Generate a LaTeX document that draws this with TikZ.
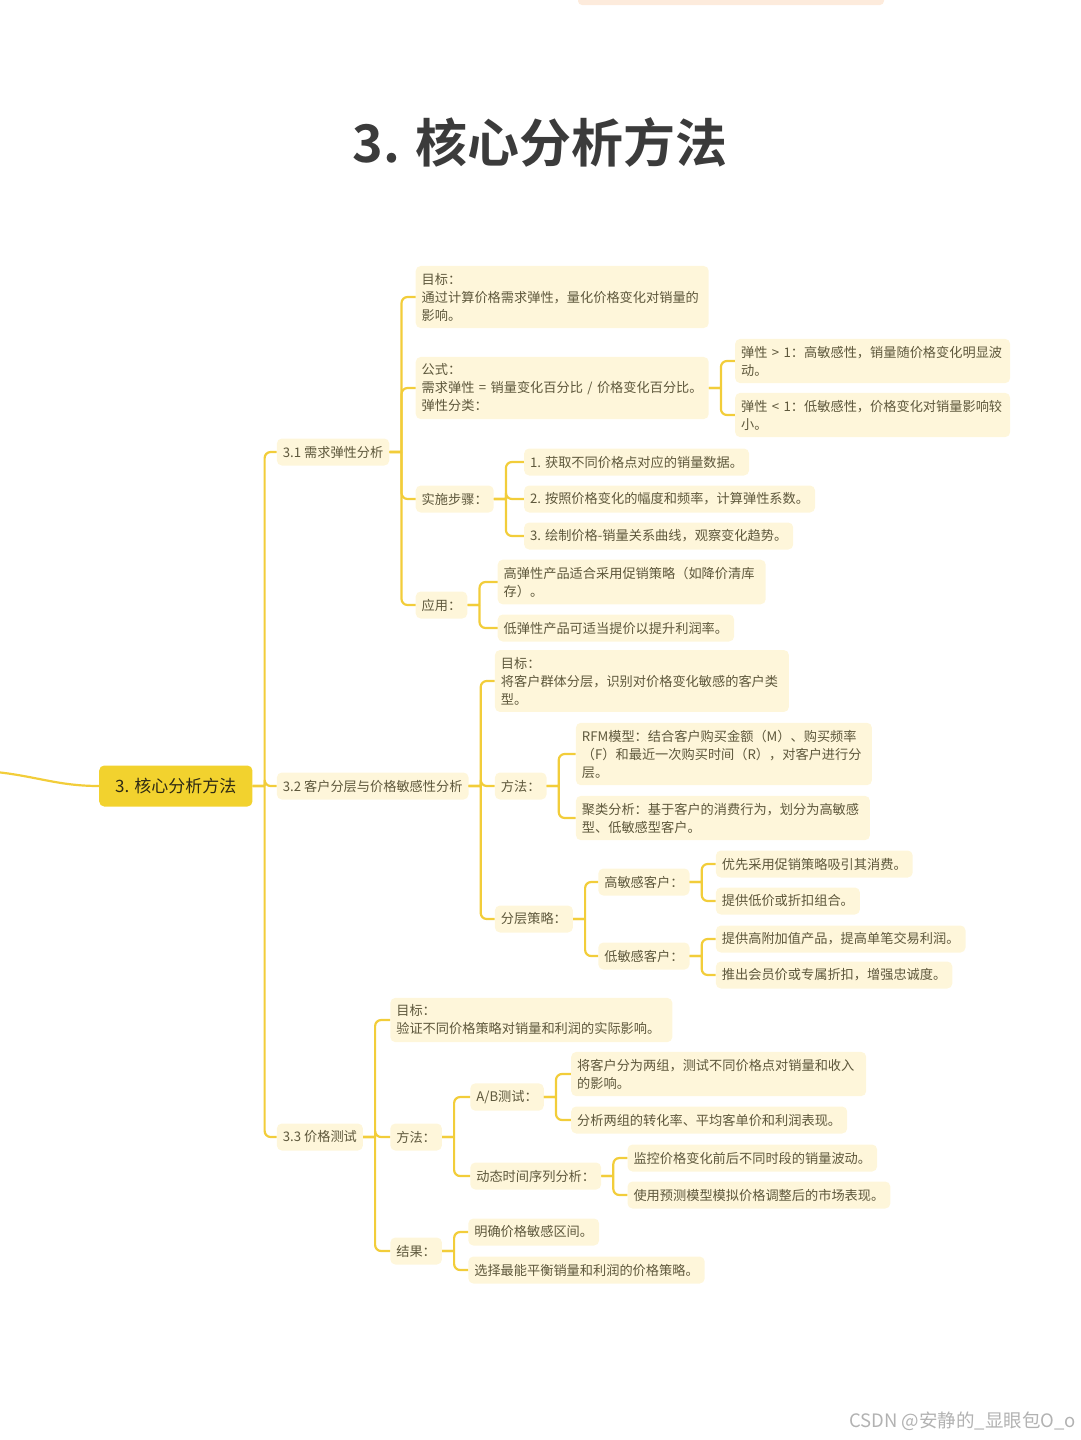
\documentclass[tikz,border=0pt]{standalone}
\usepackage{fontspec}
\setmainfont{Noto Sans CJK SC}[BoldFont={Noto Sans CJK SC Bold}]
\usepackage{xcolor}
\usetikzlibrary{positioning}

\definecolor{linkyellow}{HTML}{F2CD3A}
\definecolor{rootyellow}{HTML}{F2D22E}
\definecolor{rootink}{HTML}{2E2A14}
\definecolor{cream}{HTML}{FEF6DA}
\definecolor{ink}{HTML}{5E583C}
\definecolor{titleink}{HTML}{3B3B3B}
\definecolor{peach}{HTML}{FDEBDC}

\begin{document}
\begin{tikzpicture}[
    x=1pt, y=-1pt,
    heading/.style={font=\fontsize{52}{62}\selectfont\bfseries, text=titleink, inner sep=0pt},
    hub/.style={fill=rootyellow, rounded corners=5pt, text=rootink, font=\fontsize{17}{20}\selectfont, minimum height=41pt, inner xsep=16pt},
    leaf/.style={fill=cream, rounded corners=5pt, text=ink, font=\fontsize{13.2}{18}\selectfont, align=left, inner xsep=6pt, inner ysep=7pt, minimum height=27pt},
    link/.style={draw=linkyellow, line width=2.2pt, rounded corners=6pt},
    mark_lbl/.style={font=\fontsize{18.5}{20}\selectfont, text=black!30, inner sep=0pt}
]
    \useasboundingbox (0,0) rectangle (1080,1440);
    \fill[peach, rounded corners=4pt] (578,-6) rectangle (884,5);

    % Title
    \node[heading] (title) at (540,143) {3. 核心分析方法};

    % Root and main topics
    \node[hub, anchor=west] (core) at (99,786) {3. 核心分析方法};
    \coordinate (upstream) at (-4,772);
    \node[leaf, right=24pt of core, yshift=334pt] (elastic) {3.1 需求弹性分析};
    \node[leaf, right=24pt of core] (segment) {3.2 客户分层与价格敏感性分析};
    \node[leaf, right=24pt of core, yshift=-351pt] (pricetest) {3.3 价格测试};

    % 3.1
    \node[leaf, text width=281pt, right=26pt of elastic, yshift=155pt] (elGoal) {目标：\\通过计算价格需求弹性，量化价格变化对销量的\\影响。};
    \node[leaf, text width=281pt, right=26pt of elastic, yshift=64pt] (elFormula) {公式：\\需求弹性~=~销量变化百分比~/~价格变化百分比。\\弹性分类：};
    \node[leaf, right=26pt of elastic, yshift=-47pt] (elSteps) {实施步骤：};
    \node[leaf, right=26pt of elastic, yshift=-153pt] (elUse) {应用：};
    \node[leaf, text width=263pt, right=26pt of elFormula, yshift=27pt] (elHigh) {弹性~>~1：高敏感性，销量随价格变化明显波\\动。};
    \node[leaf, text width=263pt, right=26pt of elFormula, yshift=-27pt] (elLow) {弹性~<~1：低敏感性，价格变化对销量影响较\\小。};
    \node[leaf, right=30pt of elSteps, yshift=37pt] (stepA) {1. 获取不同价格点对应的销量数据。};
    \node[leaf, right=30pt of elSteps] (stepB) {2. 按照价格变化的幅度和频率，计算弹性系数。};
    \node[leaf, right=30pt of elSteps, yshift=-37pt] (stepC) {3. 绘制价格-销量关系曲线，观察变化趋势。};
    \node[leaf, text width=256pt, right=30pt of elUse, yshift=23pt] (useHigh) {高弹性产品适合采用促销策略（如降价清库\\存）。};
    \node[leaf, right=30pt of elUse, yshift=-23pt] (useLow) {低弹性产品可适当提价以提升利润率。};

    % 3.2
    \node[leaf, text width=282pt, right=26pt of segment, yshift=105pt] (segGoal) {目标：\\将客户群体分层，识别对价格变化敏感的客户类\\型。};
    \node[leaf, right=26pt of segment] (segMethod) {方法：};
    \node[leaf, right=26pt of segment, yshift=-133pt] (segPlan) {分层策略：};
    \node[leaf, text width=284pt, right=29pt of segMethod, yshift=32pt] (rfm) {RFM模型：结合客户购买金额（M）、购买频率\\（F）和最近一次购买时间（R），对客户进行分\\层。};
    \node[leaf, text width=282pt, right=29pt of segMethod, yshift=-32pt] (cluster) {聚类分析：基于客户的消费行为，划分为高敏感\\型、低敏感型客户。};
    \node[leaf, right=25pt of segPlan, yshift=37pt] (hiCust) {高敏感客户：};
    \node[leaf, right=25pt of segPlan, yshift=-37pt] (loCust) {低敏感客户：};
    \node[leaf, right=26pt of hiCust, yshift=18pt] (hiA) {优先采用促销策略吸引其消费。};
    \node[leaf, right=26pt of hiCust, yshift=-19pt] (hiB) {提供低价或折扣组合。};
    \node[leaf, right=26pt of loCust, yshift=17pt] (loA) {提供高附加值产品，提高单笔交易利润。};
    \node[leaf, right=26pt of loCust, yshift=-19pt] (loB) {推出会员价或专属折扣，增强忠诚度。};

    % 3.3
    \node[leaf, text width=270pt, right=27pt of pricetest, yshift=117pt] (ptGoal) {目标：\\验证不同价格策略对销量和利润的实际影响。};
    \node[leaf, right=27pt of pricetest] (ptMethod) {方法：};
    \node[leaf, right=27pt of pricetest, yshift=-114pt] (ptResult) {结果：};
    \node[leaf, right=28pt of ptMethod, yshift=40pt] (abTest) {A/B测试：};
    \node[leaf, right=28pt of ptMethod, yshift=-39pt] (series) {动态时间序列分析：};
    \node[leaf, text width=283pt, right=27pt of abTest, yshift=23pt] (abA) {将客户分为两组，测试不同价格点对销量和收入\\的影响。};
    \node[leaf, right=27pt of abTest, yshift=-23pt] (abB) {分析两组的转化率、平均客单价和利润表现。};
    \node[leaf, right=26pt of series, yshift=18pt] (seA) {监控价格变化前后不同时段的销量波动。};
    \node[leaf, right=26pt of series, yshift=-19pt] (seB) {使用预测模型模拟价格调整后的市场表现。};
    \node[leaf, right=26pt of ptResult, yshift=19pt] (resA) {明确价格敏感区间。};
    \node[leaf, right=26pt of ptResult, yshift=-19pt] (resB) {选择最能平衡销量和利润的价格策略。};

    % Connectors
    \draw[link] (upstream) to[out=-6, in=180] (core.west);
    \foreach \p/\c in {core/elastic, core/segment, core/pricetest,
        elastic/elGoal, elastic/elFormula, elastic/elSteps, elastic/elUse,
        elFormula/elHigh, elFormula/elLow,
        elSteps/stepA, elSteps/stepB, elSteps/stepC,
        elUse/useHigh, elUse/useLow,
        segment/segGoal, segment/segMethod, segment/segPlan,
        segMethod/rfm, segMethod/cluster,
        segPlan/hiCust, segPlan/loCust,
        hiCust/hiA, hiCust/hiB, loCust/loA, loCust/loB,
        pricetest/ptGoal, pricetest/ptMethod, pricetest/ptResult,
        ptMethod/abTest, ptMethod/series,
        abTest/abA, abTest/abB, series/seA, series/seB,
        ptResult/resA, ptResult/resB}
        \draw[link] (\p.east) -- ++(12,0) (\p.east) ++(12,0) |- (\c.west);

    % Watermark
    \node[mark_lbl, anchor=east] (stamp) at (1076,1421) {CSDN @安静的\_显眼包O\_o};
\end{tikzpicture}
\end{document}
